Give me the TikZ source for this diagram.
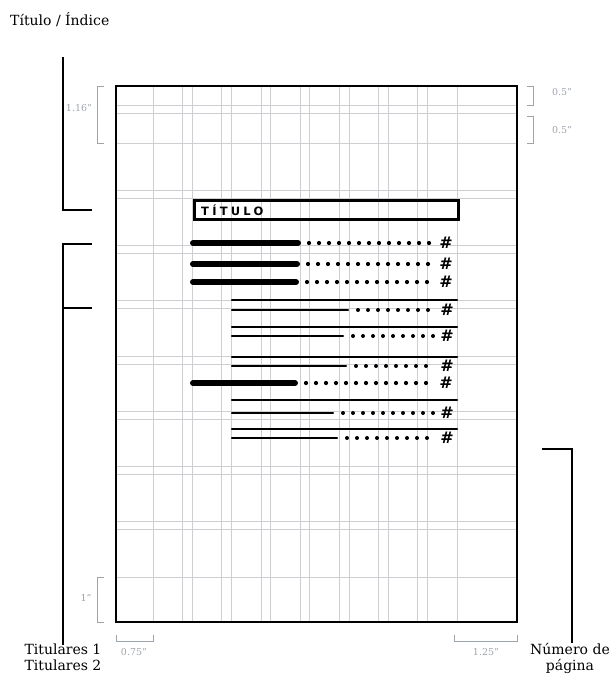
\documentclass[tikz,border=0pt]{standalone}
\usepackage{fontspec}
\setmainfont{DejaVu Serif}
\newfontfamily\handfont[LetterSpace=28]{DejaVu Sans}
\newfontfamily\hashfont{DejaVu Sans}
\usepackage{tikz}
\usetikzlibrary{positioning}
\definecolor{gridgray}{HTML}{CDCFD3}
\definecolor{markgray}{HTML}{9EA4AC}
\tikzset{
  gridline/.style={gridgray,line width=0.8pt},
  marker/.style={markgray,line width=0.9pt},
  marklabel/.style={markgray,font=\fontsize{9.5}{10}\selectfont},
  callout/.style={black,line width=1.3pt},
  sidelabel/.style={font=\fontsize{14}{16}\selectfont,align=center,inner sep=0pt},
  headbar/.style={line width=6pt,line cap=round},
  textrule/.style={line width=2.2pt,line cap=round},
  hash/.style={font=\hashfont\bfseries\fontsize{16}{16}\selectfont,inner sep=0pt},
}

\begin{document}
\begin{tikzpicture}[x=1pt,y=-1pt]
        \useasboundingbox (0,0) rectangle (611,689);
        % grid of the page
        \foreach \i in {0,...,7}{
          \draw[gridline] (153+\i*39.2,86)--(153+\i*39.2,622);
          \draw[gridline] (182.6+\i*39.2,86)--(182.6+\i*39.2,622);
          \draw[gridline] (116,143+\i*55.25)--(517,143+\i*55.25);
          \draw[gridline] (116,190.25+\i*55.25)--(517,190.25+\i*55.25);
        }
        \foreach \y in {105,113}{\draw[gridline] (116,\y)--(517,\y);}
        \draw[line width=1.3pt] (116,86) rectangle (517,622);
        % margins
        \draw[marker] (104,86) -| (97,143) -- (104,143);
        \node[marklabel] (mtop) at (79,108) {1.16”};
        \draw[marker] (527,86) -| (533,105) -- (527,105);
        \node[marklabel] (mhalfa) at (562,92) {0.5”};
        \draw[marker] (527,116) -| (533,143) -- (527,143);
        \node[marklabel] (mhalfb) at (562,130) {0.5”};
        \draw[marker] (104,577) -| (97,622) -- (104,622);
        \node[marklabel] (mbottom) at (86,598) {1”};
        \draw[marker] (116,635) |- (153,641) -- (153,635);
        \node[marklabel] (mleft) at (134,652) {0.75”};
        \draw[marker] (454,635) |- (517,641) -- (517,635);
        \node[marklabel] (mright) at (486,652) {1.25”};
        % sketch
        \node[draw,line width=2.8pt,minimum width=264pt,minimum height=19pt,anchor=north west,inner sep=0pt] (titlebox) at (193,199) {};
        \node[font=\handfont\bfseries\fontsize{11.5}{11.5}\selectfont,anchor=west,inner sep=0pt] (titletext) at ([xshift=8pt]titlebox.west) {TÍTULO};
        \foreach \y/\e in {243/298,264/297,282/296,383/295}{
          \draw[headbar] (193,\y)--(\e,\y);
          \foreach \x in {0,...,12}{\fill (\e+11+\x*10,\y) circle (2.1pt);}
          \node[hash] (h\y) at (446,\y) {\#};
        }
        \foreach \y/\s/\e/\n in {300/310/348/7,327/336/343/8,357/366/346/7,400/413/333/9,429/438/337/8}{
          \draw[textrule] (232,\y)--(457,\y);
          \draw[textrule] (232,\s)--(\e,\s);
          \foreach \x in {0,...,\n}{\fill (\e+10+\x*10,\s) circle (2pt);}
          \node[hash] (h\s) at (447,\s) {\#};
        }
        % callouts
        \coordinate (tiTop) at (63,57);
        \coordinate (tiEnd) at (92,210);
        \draw[callout] (tiTop) |- (tiEnd);
        \node[sidelabel,anchor=base west] (titulo) at (10,25) {Título / Índice};
        \coordinate (tuA) at (92,244);
        \coordinate (tuB) at (92,308);
        \coordinate (tuBot) at (63,645);
        \draw[callout] (tuA) -| (tuBot);
        \draw[callout] (tuB) -- (tuB -| tuBot);
        \node[sidelabel,anchor=base] (titulares) at (63,670) {Titulares 1\\Titulares 2};
        \coordinate (nuTop) at (542,449);
        \coordinate (nuBot) at (572,643);
        \draw[callout] (nuTop) -| (nuBot);
        \node[sidelabel,anchor=base] (numero) at (570,670) {Número de\\página};
      \end{tikzpicture}
\end{document}
